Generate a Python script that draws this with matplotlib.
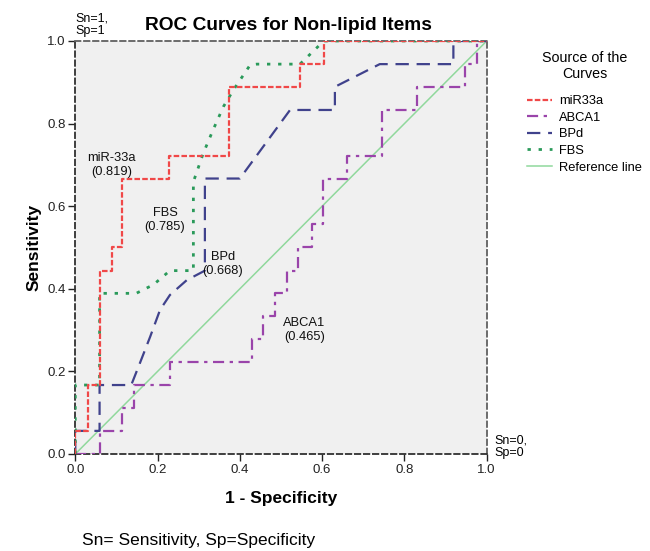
import matplotlib
matplotlib.use("Agg")
import matplotlib.pyplot as plt

plt.rcParams['font.family'] = ['Liberation Sans', 'DejaVu Sans']

# ---- data ----
mir_x = [0, 0, 0.03, 0.03, 0.059, 0.059, 0.088, 0.088, 0.114, 0.114, 0.228, 0.228,
         0.374, 0.374, 0.546, 0.546, 0.604, 0.604, 1.0]
mir_y = [0, 0.056, 0.056, 0.167, 0.167, 0.444, 0.444, 0.5, 0.5, 0.667, 0.667, 0.722,
         0.722, 0.889, 0.889, 0.944, 0.944, 1.0, 1.0]

abca_x = [0, 0.059, 0.059, 0.114, 0.114, 0.143, 0.143, 0.23, 0.23, 0.429, 0.429, 0.457,
          0.457, 0.485, 0.485, 0.514, 0.514, 0.542, 0.542, 0.575, 0.575, 0.603, 0.603,
          0.66, 0.66, 0.745, 0.745, 0.83, 0.83, 0.947, 0.947, 0.976, 0.976, 1.0]
abca_y = [0, 0, 0.056, 0.056, 0.111, 0.111, 0.167, 0.167, 0.222, 0.222, 0.278, 0.278,
          0.333, 0.333, 0.389, 0.389, 0.444, 0.444, 0.5, 0.5, 0.556, 0.556, 0.667,
          0.667, 0.722, 0.722, 0.833, 0.833, 0.889, 0.889, 0.944, 0.944, 1.0, 1.0]

bpd_x = [0, 0, 0.059, 0.059, 0.136, 0.157, 0.182, 0.206, 0.23, 0.271, 0.315, 0.315,
         0.40, 0.522, 0.631, 0.631, 0.74, 0.919, 0.919, 1.0]
bpd_y = [0, 0.056, 0.056, 0.167, 0.167, 0.22, 0.284, 0.349, 0.385, 0.421, 0.444, 0.667,
         0.667, 0.833, 0.833, 0.889, 0.944, 0.944, 1.0, 1.0]

fbs_x = [0, 0, 0.059, 0.059, 0.148, 0.19, 0.23, 0.287, 0.287, 0.311, 0.335, 0.36,
         0.384, 0.425, 0.441, 0.546, 0.604, 1.0]
fbs_y = [0, 0.167, 0.167, 0.389, 0.389, 0.41, 0.444, 0.444, 0.659, 0.728, 0.785,
         0.841, 0.881, 0.942, 0.944, 0.944, 1.0, 1.0]

ref_x = [0, 1]
ref_y = [0, 1]

series_names = ["miR33a", "ABCA1", "BPd", "FBS", "Reference line"]
auc_labels = [("miR-33a\n(0.819)", 0.088, 0.699),
              ("FBS\n(0.785)", 0.218, 0.567),
              ("BPd\n(0.668)", 0.358, 0.46),
              ("ABCA1\n(0.465)", 0.557, 0.30)]
ticks = [0.0, 0.2, 0.4, 0.6, 0.8, 1.0]

# ---- figure ----
W, H = 650, 551
fig = plt.figure(figsize=(W / 100, H / 100), dpi=100)
ax = fig.add_axes([75.3 / W, 1 - 454 / H, (486.7 - 75.3) / W, (454 - 41) / H])
ax.set_facecolor('#f0f0f0')

c_red = '#f04848'
c_pur = '#9a44aa'
c_nav = '#40428c'
c_grn = '#2a9a5a'
c_ref = '#90d89c'

l_ref, = ax.plot(ref_x, ref_y, color=c_ref, lw=1.1, zorder=2)
l_abca, = ax.plot(abca_x, abca_y, color=c_pur, lw=1.6, ls=(0, (5, 2.5, 1.5, 2.5)), zorder=3)
l_bpd, = ax.plot(bpd_x, bpd_y, color=c_nav, lw=1.6, ls=(0, (6, 3.5)), zorder=3)
l_fbs, = ax.plot(fbs_x, fbs_y, color=c_grn, lw=2.0, ls=(0, (1.2, 2.8)), zorder=4)
l_mir, = ax.plot(mir_x, mir_y, color=c_red, lw=1.6, ls=(0, (2.5, 1.0)), zorder=5)

for txt, x, y in auc_labels:
    ax.text(x, y, txt, ha='center', va='center', fontsize=9.3, multialignment='center',
            color='#111111', zorder=6)

ax.set_xlim(0, 1)
ax.set_ylim(0, 1)
ax.set_xticks(ticks)
ax.set_yticks(ticks)
ax.set_xticklabels([f"{t:.1f}" for t in ticks])
ax.set_yticklabels([f"{t:.1f}" for t in ticks])
ax.tick_params(axis='both', direction='out', length=5, width=1, labelsize=9.5,
               colors='#222222', pad=2)

for s in ax.spines.values():
    s.set_linestyle((0, (3, 2)))
    s.set_color('#606060')
    s.set_linewidth(1.3)
ax.spines['left'].set_color('#303030')
ax.spines['bottom'].set_color('#303030')

ax.set_xlabel("1 - Specificity", fontsize=12.5, fontweight='bold', labelpad=11)
ax.set_ylabel("Sensitivity", fontsize=12.5, fontweight='bold', labelpad=4)

fig.text(288.5 / W, 1 - 26 / H, "ROC Curves for Non-lipid Items", ha='center', va='center',
         fontsize=13.8, fontweight='bold')
fig.text(75 / W, 1 - 25 / H, "Sn=1,\nSp=1", ha='left', va='center', fontsize=9,
         linespacing=1.05)
fig.text(494 / W, 1 - 447 / H, "Sn=0,\nSp=0", ha='left', va='center', fontsize=9,
         linespacing=1.05)
fig.text(82 / W, 1 - 541 / H, "Sn= Sensitivity, Sp=Specificity", ha='left', va='center',
         fontsize=12.5)

handles = [l_mir, l_abca, l_bpd, l_fbs, l_ref]
leg = ax.legend(handles, series_names, title="Source of the\nCurves",
                loc='upper left', bbox_to_anchor=(522 / W, 1 - 46 / H),
                bbox_transform=fig.transFigure, frameon=False, fontsize=9.3,
                title_fontsize=10.3, handlelength=1.9, handletextpad=0.6,
                labelspacing=0.35, borderaxespad=0)
leg._legend_box.align = 'center'
leg._legend_box.sep = 10
leg.get_title().set_multialignment('center')

fig.savefig("out.png", dpi=100)
